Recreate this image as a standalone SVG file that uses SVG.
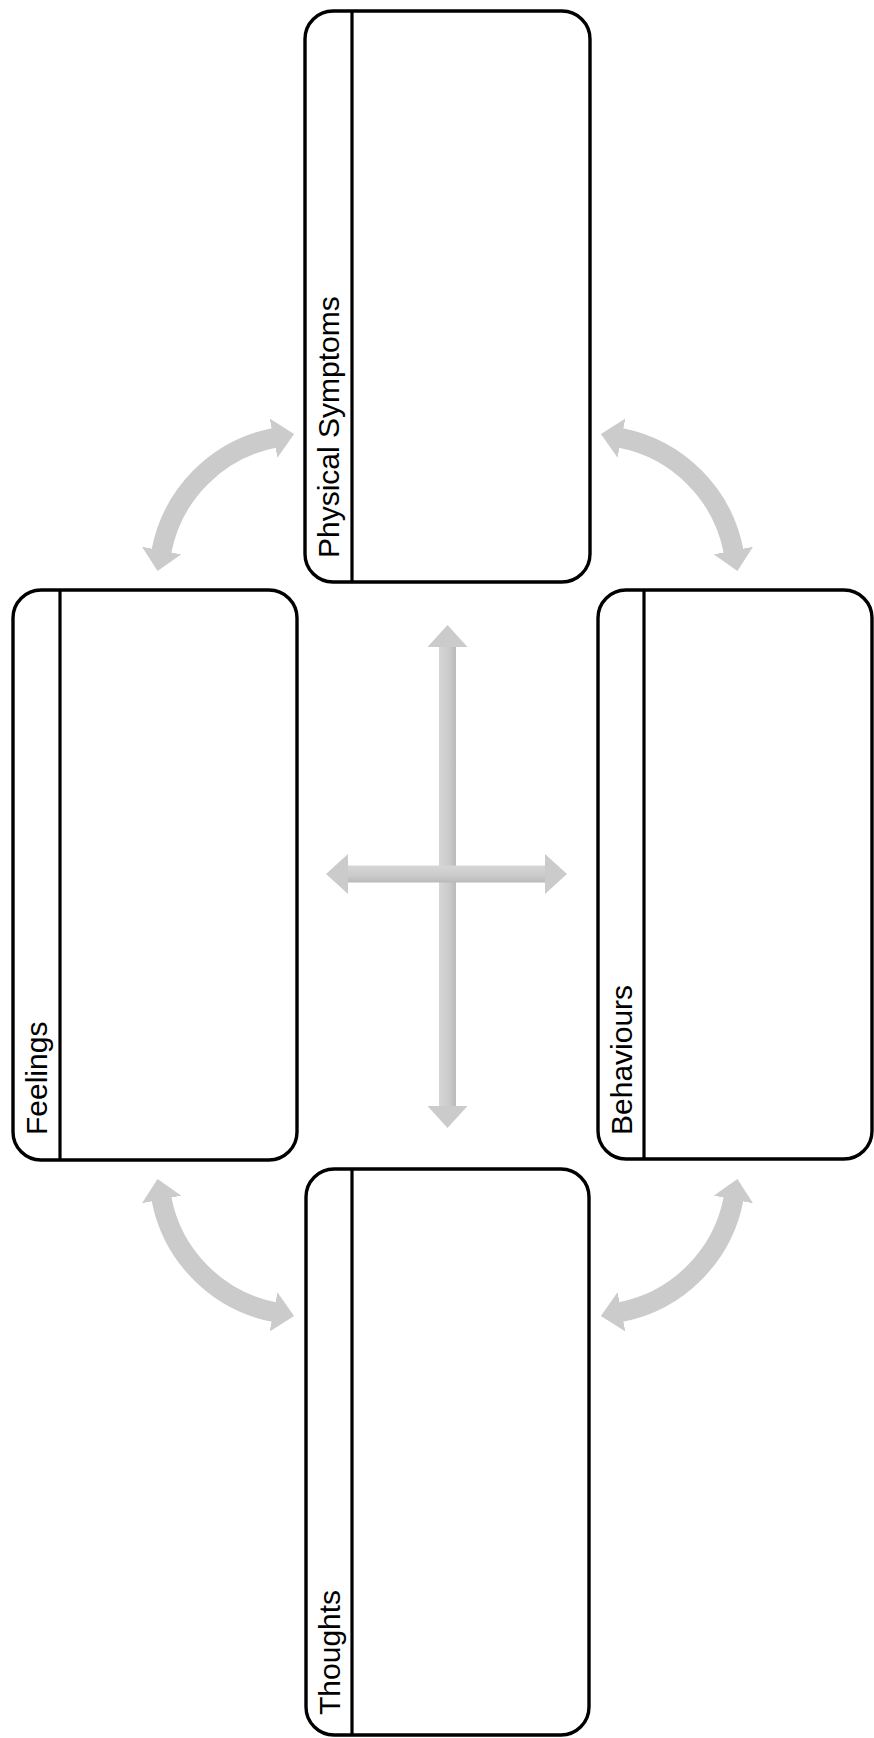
<svg xmlns="http://www.w3.org/2000/svg" width="874" height="1738" viewBox="0 0 874 1738">
<style>
.box{fill:#fff;stroke:#000;stroke-width:3.4}
.div{stroke:#000;stroke-width:3.2}
.lbl{font-family:"Liberation Sans",Arial,sans-serif;font-size:30px;fill:#000}
.arc{fill:none;stroke:#cbcbcb;stroke-width:20}
.head{fill:#cbcbcb}
</style>
<defs>
<marker id="ah" markerUnits="userSpaceOnUse" viewBox="0 0 21 40" markerWidth="21" markerHeight="40" refX="0.5" refY="20" orient="auto-start-reverse">
<path d="M0,0 L21,20 L0,40 z" fill="#cbcbcb"/>
</marker>
<linearGradient id="gv" x1="0" y1="0" x2="1" y2="0">
<stop offset="0" stop-color="#d6d6d6"/><stop offset="0.6" stop-color="#cbcbcb"/><stop offset="1" stop-color="#b9b9b9"/>
</linearGradient>
<linearGradient id="gh" x1="0" y1="0" x2="0" y2="1">
<stop offset="0" stop-color="#d6d6d6"/><stop offset="0.6" stop-color="#cbcbcb"/><stop offset="1" stop-color="#b9b9b9"/>
</linearGradient>
</defs>

<g id="connectors">
<g id="arc-tl"><path class="arc" d="M161.5,551 A143,143 0 0 1 274,438" marker-start="url(#ah)" marker-end="url(#ah)"/></g>
<g id="arc-tr" transform="translate(895,0) scale(-1,1)"><path class="arc" d="M161.5,551 A143,143 0 0 1 274,438" marker-start="url(#ah)" marker-end="url(#ah)"/></g>
<g id="arc-bl" transform="translate(0,1750) scale(1,-1)"><path class="arc" d="M161.5,551 A143,143 0 0 1 274,438" marker-start="url(#ah)" marker-end="url(#ah)"/></g>
<g id="arc-br" transform="translate(895,1750) scale(-1,-1)"><path class="arc" d="M161.5,551 A143,143 0 0 1 274,438" marker-start="url(#ah)" marker-end="url(#ah)"/></g>
<g id="vertical">
<rect x="439" y="646" width="17" height="461" fill="url(#gv)"/>
<polygon class="head" points="447.5,625 467.5,647 427.5,647"/>
<polygon class="head" points="447.5,1128 467.5,1106 427.5,1106"/>
</g>
<g id="horizontal">
<rect x="347" y="865.5" width="199" height="17" fill="url(#gh)"/>
<polygon class="head" points="326,874 348,854 348,894"/>
<polygon class="head" points="567,874 545,854 545,894"/>
</g>
</g>

<g id="physical">
<rect class="box" x="305" y="11" width="285" height="571" rx="28"/>
<line class="div" x1="352" y1="11" x2="352" y2="582"/>
<text class="lbl" transform="translate(339,558) rotate(-90)">Physical Symptoms</text>
</g>
<g id="feelings">
<rect class="box" x="13" y="590" width="284" height="570" rx="28"/>
<line class="div" x1="60" y1="590" x2="60" y2="1160"/>
<text class="lbl" transform="translate(47,1135) rotate(-90)">Feelings</text>
</g>
<g id="behaviours">
<rect class="box" x="598" y="590" width="274" height="569" rx="28"/>
<line class="div" x1="644" y1="590" x2="644" y2="1159"/>
<text class="lbl" transform="translate(632,1135) rotate(-90)">Behaviours</text>
</g>
<g id="thoughts">
<rect class="box" x="306" y="1169" width="283" height="566" rx="28"/>
<line class="div" x1="352" y1="1169" x2="352" y2="1735"/>
<text class="lbl" transform="translate(340,1715) rotate(-90)">Thoughts</text>
</g>
</svg>
